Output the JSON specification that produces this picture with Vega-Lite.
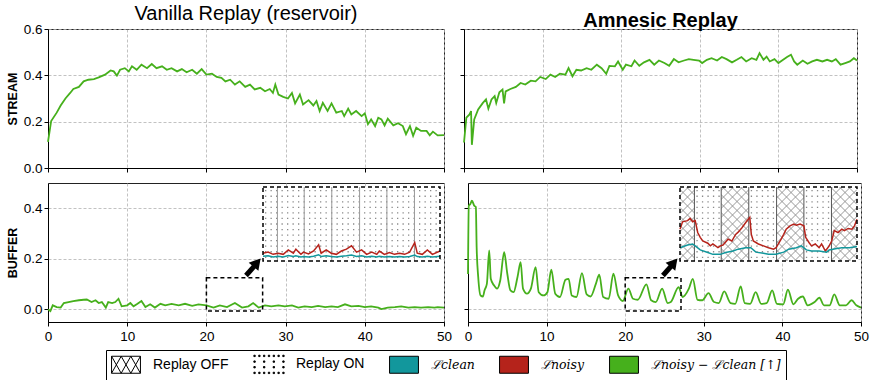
{
"$schema": "https://vega.github.io/schema/vega-lite/v6.json",
"padding": {"top": 3, "left": 5, "right": 4, "bottom": 0},
"datasets": {
"stream_vanilla": [{"e":0,"v":0.113},{"e":0.4,"v":0.203},{"e":1.1,"v":0.239},{"e":1.6,"v":0.27},{"e":2.2,"v":0.3},{"e":2.8,"v":0.324},{"e":3.2,"v":0.341},{"e":3.9,"v":0.35},{"e":4.5,"v":0.374},{"e":5.1,"v":0.381},{"e":5.8,"v":0.384},{"e":6.4,"v":0.391},{"e":7.2,"v":0.403},{"e":7.9,"v":0.421},{"e":8.3,"v":0.417},{"e":8.7,"v":0.399},{"e":9.1,"v":0.424},{"e":9.7,"v":0.431},{"e":10.2,"v":0.417},{"e":10.6,"v":0.439},{"e":11.2,"v":0.424},{"e":11.8,"v":0.446},{"e":12.5,"v":0.431},{"e":13.1,"v":0.449},{"e":13.7,"v":0.431},{"e":14.4,"v":0.439},{"e":15.0,"v":0.424},{"e":15.6,"v":0.431},{"e":16.3,"v":0.417},{"e":16.9,"v":0.427},{"e":17.5,"v":0.413},{"e":18.2,"v":0.424},{"e":18.8,"v":0.407},{"e":19.4,"v":0.427},{"e":20.0,"v":0.403},{"e":20.7,"v":0.407},{"e":21.3,"v":0.393},{"e":21.9,"v":0.389},{"e":22.4,"v":0.374},{"e":23.0,"v":0.381},{"e":23.6,"v":0.36},{"e":24.2,"v":0.374},{"e":24.9,"v":0.35},{"e":25.5,"v":0.36},{"e":26.1,"v":0.339},{"e":26.8,"v":0.346},{"e":27.4,"v":0.331},{"e":28.0,"v":0.341},{"e":28.4,"v":0.324},{"e":28.7,"v":0.36},{"e":29.1,"v":0.317},{"e":29.7,"v":0.307},{"e":30.3,"v":0.3},{"e":30.8,"v":0.324},{"e":31.2,"v":0.279},{"e":31.8,"v":0.317},{"e":32.2,"v":0.274},{"e":32.9,"v":0.293},{"e":33.5,"v":0.27},{"e":33.9,"v":0.289},{"e":34.3,"v":0.246},{"e":34.7,"v":0.281},{"e":35.3,"v":0.246},{"e":35.8,"v":0.279},{"e":36.4,"v":0.239},{"e":37.1,"v":0.246},{"e":37.4,"v":0.224},{"e":37.9,"v":0.256},{"e":38.3,"v":0.231},{"e":38.9,"v":0.246},{"e":39.6,"v":0.224},{"e":40.0,"v":0.236},{"e":40.4,"v":0.189},{"e":40.8,"v":0.21},{"e":41.3,"v":0.181},{"e":41.7,"v":0.217},{"e":42.1,"v":0.21},{"e":42.5,"v":0.184},{"e":42.9,"v":0.213},{"e":43.6,"v":0.184},{"e":44.2,"v":0.193},{"e":44.8,"v":0.181},{"e":45.2,"v":0.146},{"e":45.7,"v":0.181},{"e":46.1,"v":0.139},{"e":46.5,"v":0.174},{"e":47.1,"v":0.16},{"e":47.8,"v":0.16},{"e":48.2,"v":0.141},{"e":48.6,"v":0.157},{"e":49.2,"v":0.141},{"e":50,"v":0.142}],
"stream_amnesic": [{"e":0,"v":0.11},{"e":0.3,"v":0.217},{"e":0.7,"v":0.231},{"e":0.9,"v":0.246},{"e":1.0,"v":0.1},{"e":1.3,"v":0.21},{"e":1.8,"v":0.253},{"e":2.4,"v":0.281},{"e":2.8,"v":0.296},{"e":3.1,"v":0.256},{"e":3.5,"v":0.296},{"e":3.9,"v":0.31},{"e":4.1,"v":0.281},{"e":4.5,"v":0.327},{"e":4.9,"v":0.339},{"e":5.1,"v":0.279},{"e":5.3,"v":0.331},{"e":5.9,"v":0.341},{"e":6.6,"v":0.35},{"e":7.2,"v":0.367},{"e":7.8,"v":0.36},{"e":8.5,"v":0.377},{"e":9.1,"v":0.374},{"e":9.7,"v":0.393},{"e":10.4,"v":0.384},{"e":11.0,"v":0.403},{"e":11.6,"v":0.393},{"e":12.2,"v":0.407},{"e":12.9,"v":0.403},{"e":13.3,"v":0.431},{"e":13.8,"v":0.396},{"e":14.3,"v":0.424},{"e":14.9,"v":0.421},{"e":15.6,"v":0.431},{"e":16.2,"v":0.424},{"e":16.9,"v":0.446},{"e":17.5,"v":0.431},{"e":18.1,"v":0.407},{"e":18.5,"v":0.441},{"e":19.2,"v":0.439},{"e":19.6,"v":0.46},{"e":20.2,"v":0.424},{"e":20.6,"v":0.446},{"e":21.3,"v":0.439},{"e":21.7,"v":0.464},{"e":22.3,"v":0.441},{"e":22.9,"v":0.456},{"e":23.6,"v":0.467},{"e":24.2,"v":0.446},{"e":24.8,"v":0.464},{"e":25.5,"v":0.453},{"e":26.1,"v":0.441},{"e":26.7,"v":0.47},{"e":27.3,"v":0.456},{"e":28.0,"v":0.464},{"e":28.6,"v":0.47},{"e":29.2,"v":0.467},{"e":29.9,"v":0.464},{"e":30.3,"v":0.453},{"e":30.9,"v":0.467},{"e":31.5,"v":0.474},{"e":32.2,"v":0.464},{"e":32.8,"v":0.479},{"e":33.4,"v":0.47},{"e":34.1,"v":0.456},{"e":34.7,"v":0.467},{"e":35.3,"v":0.479},{"e":35.9,"v":0.46},{"e":36.6,"v":0.474},{"e":37.2,"v":0.467},{"e":37.6,"v":0.496},{"e":38.1,"v":0.467},{"e":38.5,"v":0.481},{"e":38.9,"v":0.46},{"e":39.5,"v":0.47},{"e":40.0,"v":0.453},{"e":40.6,"v":0.467},{"e":41.1,"v":0.479},{"e":41.6,"v":0.489},{"e":42.0,"v":0.46},{"e":42.4,"v":0.446},{"e":43.1,"v":0.464},{"e":43.7,"v":0.45},{"e":44.3,"v":0.46},{"e":44.9,"v":0.467},{"e":45.6,"v":0.46},{"e":46.2,"v":0.467},{"e":46.8,"v":0.46},{"e":47.3,"v":0.47},{"e":47.9,"v":0.446},{"e":48.5,"v":0.453},{"e":49.1,"v":0.46},{"e":49.6,"v":0.474},{"e":50,"v":0.464}],
"buffer_vanilla": [{"e":0,"v":0.0},{"e":0.3,"v":-0.007},{"e":0.6,"v":0.016},{"e":1.1,"v":0.009},{"e":1.6,"v":0.007},{"e":2.0,"v":0.025},{"e":2.6,"v":0.029},{"e":3.2,"v":0.033},{"e":3.9,"v":0.036},{"e":4.5,"v":0.038},{"e":4.9,"v":0.039},{"e":5.5,"v":0.029},{"e":6.0,"v":0.036},{"e":6.4,"v":0.025},{"e":6.8,"v":0.029},{"e":7.3,"v":0.007},{"e":7.6,"v":0.029},{"e":8.1,"v":0.025},{"e":8.5,"v":0.029},{"e":8.9,"v":0.042},{"e":9.3,"v":0.012},{"e":10.0,"v":0.016},{"e":10.4,"v":0.025},{"e":10.8,"v":0.012},{"e":11.3,"v":0.022},{"e":11.8,"v":0.033},{"e":12.3,"v":0.009},{"e":12.9,"v":0.02},{"e":13.5,"v":0.007},{"e":14.2,"v":0.022},{"e":14.8,"v":0.016},{"e":15.6,"v":0.022},{"e":16.5,"v":0.016},{"e":17.3,"v":0.022},{"e":18.2,"v":0.014},{"e":19.0,"v":0.02},{"e":20.0,"v":0.016},{"e":20.9,"v":0.007},{"e":21.7,"v":0.016},{"e":22.6,"v":0.009},{"e":23.6,"v":0.025},{"e":24.5,"v":0.007},{"e":25.3,"v":0.012},{"e":25.9,"v":0.025},{"e":26.6,"v":0.007},{"e":27.4,"v":0.016},{"e":28.2,"v":0.012},{"e":29.1,"v":0.016},{"e":29.9,"v":0.012},{"e":30.8,"v":0.016},{"e":31.6,"v":0.007},{"e":32.4,"v":0.012},{"e":33.3,"v":0.009},{"e":34.1,"v":0.014},{"e":35.0,"v":0.009},{"e":35.8,"v":0.012},{"e":36.6,"v":0.009},{"e":37.5,"v":0.02},{"e":38.3,"v":0.012},{"e":39.2,"v":0.014},{"e":40.0,"v":0.009},{"e":40.8,"v":0.012},{"e":41.7,"v":0.007},{"e":42.1,"v":0.001},{"e":42.9,"v":0.007},{"e":43.8,"v":0.009},{"e":44.6,"v":0.012},{"e":45.5,"v":0.007},{"e":46.3,"v":0.009},{"e":47.1,"v":0.007},{"e":48.0,"v":0.009},{"e":48.8,"v":0.007},{"e":49.2,"v":0.009},{"e":50,"v":0.007}],
"buffer_amnesic": [{"e":0,"v":0.14},{"e":0.1,"v":0.41},{"e":0.3,"v":0.417},{"e":0.5,"v":0.43},{"e":0.8,"v":0.41},{"e":1.0,"v":0.405},{"e":1.1,"v":0.246},{"e":1.3,"v":0.128},{"e":1.6,"v":0.055},{"e":1.9,"v":0.051},{"e":2.1,"v":0.075},{"e":2.4,"v":0.101},{"e":2.7,"v":0.233},{"e":2.9,"v":0.121},{"e":3.3,"v":0.095},{"e":3.7,"v":0.082},{"e":4.1,"v":0.114},{"e":4.6,"v":0.226},{"e":5.0,"v":0.141},{"e":5.4,"v":0.075},{"e":5.8,"v":0.068},{"e":6.3,"v":0.128},{"e":6.7,"v":0.187},{"e":7.0,"v":0.082},{"e":7.5,"v":0.062},{"e":8.0,"v":0.082},{"e":8.6,"v":0.167},{"e":9.0,"v":0.068},{"e":9.6,"v":0.055},{"e":10.1,"v":0.068},{"e":10.6,"v":0.157},{"e":11.1,"v":0.062},{"e":11.7,"v":0.049},{"e":12.4,"v":0.117},{"e":12.8,"v":0.121},{"e":13.2,"v":0.055},{"e":13.8,"v":0.049},{"e":14.5,"v":0.143},{"e":15.1,"v":0.059},{"e":15.6,"v":0.051},{"e":16.3,"v":0.104},{"e":16.7,"v":0.137},{"e":17.2,"v":0.049},{"e":17.9,"v":0.042},{"e":18.5,"v":0.141},{"e":19.1,"v":0.055},{"e":19.7,"v":0.033},{"e":20.4,"v":0.082},{"e":21.0,"v":0.042},{"e":21.6,"v":0.038},{"e":22.7,"v":0.099},{"e":23.3,"v":0.036},{"e":23.9,"v":0.029},{"e":24.7,"v":0.082},{"e":25.4,"v":0.025},{"e":25.8,"v":0.029},{"e":26.8,"v":0.088},{"e":27.3,"v":0.049},{"e":28.1,"v":0.082},{"e":28.6,"v":0.121},{"e":29.2,"v":0.038},{"e":29.8,"v":0.036},{"e":30.6,"v":0.064},{"e":31.3,"v":0.029},{"e":31.9,"v":0.025},{"e":32.6,"v":0.071},{"e":33.4,"v":0.025},{"e":34.0,"v":0.022},{"e":34.7,"v":0.091},{"e":35.2,"v":0.025},{"e":35.9,"v":0.022},{"e":36.6,"v":0.068},{"e":37.3,"v":0.022},{"e":38.0,"v":0.025},{"e":38.7,"v":0.075},{"e":39.3,"v":0.022},{"e":40.1,"v":0.02},{"e":40.7,"v":0.078},{"e":41.4,"v":0.02},{"e":42.0,"v":0.042},{"e":42.6,"v":0.051},{"e":43.2,"v":0.016},{"e":44.1,"v":0.029},{"e":44.7,"v":0.046},{"e":45.3,"v":0.016},{"e":46.0,"v":0.016},{"e":46.6,"v":0.059},{"e":47.3,"v":0.016},{"e":48.1,"v":0.016},{"e":48.8,"v":0.036},{"e":49.4,"v":0.016},{"e":50,"v":0.007}],
"inset_vanilla": [{"e":20.0,"n":0.105,"c":0.065},{"e":20.2,"n":0.12,"c":0.07},{"e":20.4,"n":0.09,"c":0.055},{"e":20.6,"n":0.105,"c":0.065},{"e":20.8,"n":0.09,"c":0.055},{"e":21.0,"n":0.15,"c":0.075},{"e":21.2,"n":0.105,"c":0.06},{"e":21.3,"n":0.16,"c":0.07},{"e":21.5,"n":0.09,"c":0.055},{"e":21.6,"n":0.12,"c":0.06},{"e":21.8,"n":0.095,"c":0.055},{"e":22.0,"n":0.135,"c":0.065},{"e":22.2,"n":0.22,"c":0.085},{"e":22.3,"n":0.105,"c":0.06},{"e":22.5,"n":0.15,"c":0.07},{"e":22.7,"n":0.105,"c":0.06},{"e":22.9,"n":0.09,"c":0.055},{"e":23.1,"n":0.135,"c":0.065},{"e":23.3,"n":0.16,"c":0.07},{"e":23.5,"n":0.205,"c":0.08},{"e":23.7,"n":0.12,"c":0.06},{"e":23.9,"n":0.15,"c":0.07},{"e":24.1,"n":0.09,"c":0.055},{"e":24.3,"n":0.12,"c":0.065},{"e":24.5,"n":0.09,"c":0.055},{"e":24.6,"n":0.135,"c":0.065},{"e":24.8,"n":0.09,"c":0.055},{"e":25.0,"n":0.115,"c":0.06},{"e":25.2,"n":0.09,"c":0.055},{"e":25.4,"n":0.105,"c":0.06},{"e":25.6,"n":0.09,"c":0.055},{"e":25.8,"n":0.12,"c":0.06},{"e":26.0,"n":0.25,"c":0.08},{"e":26.1,"n":0.105,"c":0.06},{"e":26.3,"n":0.09,"c":0.055},{"e":26.5,"n":0.15,"c":0.065},{"e":26.7,"n":0.09,"c":0.055},{"e":27.0,"n":0.135,"c":0.065}],
"inset_amnesic_noisy": [{"e":20.0,"v":0.43},{"e":20.1,"v":0.53},{"e":20.3,"v":0.545},{"e":20.4,"v":0.575},{"e":20.5,"v":0.53},{"e":20.6,"v":0.545},{"e":20.7,"v":0.385},{"e":20.8,"v":0.32},{"e":20.9,"v":0.27},{"e":21.1,"v":0.24},{"e":21.2,"v":0.205},{"e":21.3,"v":0.23},{"e":21.5,"v":0.18},{"e":21.6,"v":0.205},{"e":21.7,"v":0.215},{"e":21.9,"v":0.295},{"e":22.05,"v":0.27},{"e":22.2,"v":0.36},{"e":22.3,"v":0.39},{"e":22.45,"v":0.45},{"e":22.6,"v":0.52},{"e":22.7,"v":0.565},{"e":22.76,"v":0.59},{"e":22.82,"v":0.36},{"e":22.9,"v":0.27},{"e":23.1,"v":0.23},{"e":23.3,"v":0.205},{"e":23.5,"v":0.18},{"e":23.7,"v":0.16},{"e":23.8,"v":0.18},{"e":24.0,"v":0.295},{"e":24.1,"v":0.36},{"e":24.2,"v":0.43},{"e":24.35,"v":0.475},{"e":24.5,"v":0.5},{"e":24.6,"v":0.485},{"e":24.75,"v":0.5},{"e":24.9,"v":0.475},{"e":24.97,"v":0.32},{"e":25.1,"v":0.25},{"e":25.2,"v":0.205},{"e":25.35,"v":0.23},{"e":25.5,"v":0.18},{"e":25.6,"v":0.23},{"e":25.75,"v":0.135},{"e":25.9,"v":0.205},{"e":26.0,"v":0.27},{"e":26.1,"v":0.41},{"e":26.25,"v":0.385},{"e":26.4,"v":0.43},{"e":26.5,"v":0.41},{"e":26.65,"v":0.44},{"e":26.8,"v":0.43},{"e":26.9,"v":0.475},{"e":27.0,"v":0.565}],
"inset_amnesic_clean": [{"e":20.0,"v":0.18},{"e":20.3,"v":0.215},{"e":20.5,"v":0.23},{"e":20.6,"v":0.205},{"e":20.8,"v":0.15},{"e":21.1,"v":0.115},{"e":21.3,"v":0.09},{"e":21.6,"v":0.09},{"e":21.8,"v":0.115},{"e":22.1,"v":0.135},{"e":22.3,"v":0.16},{"e":22.6,"v":0.18},{"e":22.8,"v":0.18},{"e":23.0,"v":0.12},{"e":23.3,"v":0.105},{"e":23.5,"v":0.09},{"e":23.8,"v":0.09},{"e":24.1,"v":0.12},{"e":24.3,"v":0.16},{"e":24.6,"v":0.18},{"e":24.8,"v":0.205},{"e":25.0,"v":0.15},{"e":25.2,"v":0.135},{"e":25.5,"v":0.135},{"e":25.8,"v":0.12},{"e":25.9,"v":0.15},{"e":26.2,"v":0.17},{"e":26.4,"v":0.18},{"e":26.7,"v":0.18},{"e":27.0,"v":0.195}],
"on_bands": [{"x0":20.57,"x1":21.63,"ys":[0.05,0.125,0.2,0.275,0.35,0.425,0.5,0.575,0.65,0.725,0.8,0.875,0.95]},{"x0":22.72,"x1":23.82,"ys":[0.05,0.125,0.2,0.275,0.35,0.425,0.5,0.575,0.65,0.725,0.8,0.875,0.95]},{"x0":24.9,"x1":25.99,"ys":[0.05,0.125,0.2,0.275,0.35,0.425,0.5,0.575,0.65,0.725,0.8,0.875,0.95]}],
"all_band": [{"x0":20,"x1":27,"ys":[0.05,0.125,0.2,0.275,0.35,0.425,0.5,0.575,0.65,0.725,0.8,0.875,0.95]}],
"bounds": [{"b":20.57},{"b":21.63},{"b":22.72},{"b":23.82},{"b":24.9},{"b":25.99}],
"legend_items": [{"s":"Replay OFF"},{"s":"Replay ON"},{"s":"ℒclean"},{"s":"ℒnoisy"},{"s":"ℒnoisy − ℒclean [↑]"}]
},
"vconcat": [
{"hconcat": [
 {"width":396,"height":139,
  "title":{"text":"Vanilla Replay (reservoir)","fontSize":20,"fontWeight":"normal","font":"Liberation Sans","color":"#000","offset":-2},
  "data":{"name":"stream_vanilla"},
  "mark":{"type":"line","color":"#46b01c","strokeWidth":1.8},
  "encoding":{
   "x":{"field":"e","type":"quantitative","scale":{"domain":[0,50],"nice":false,"zero":false},"axis":{"values":[0,10,20,30,40,50],"labels":false,"title":null}},
   "y":{"field":"v","type":"quantitative","scale":{"domain":[0,0.6],"nice":false},"axis":{"values":[0,0.2,0.4,0.6],"format":".1f","title":"STREAM","titleFontWeight":"bold","titlePadding":4}}
  }},
 {"width":393,"height":139,
  "title":{"text":"Amnesic Replay","fontSize":20,"fontWeight":"bold","font":"Liberation Sans","color":"#000","offset":-2},
  "data":{"name":"stream_amnesic"},
  "mark":{"type":"line","color":"#46b01c","strokeWidth":1.8},
  "encoding":{
   "x":{"field":"e","type":"quantitative","scale":{"domain":[0,50],"nice":false,"zero":false},"axis":{"values":[0,10,20,30,40,50],"labels":false,"title":null}},
   "y":{"field":"v","type":"quantitative","scale":{"domain":[0,0.6],"nice":false},"axis":{"values":[0,0.2,0.4,0.6],"labels":false,"title":null}}
  }}
 ], "spacing": 10},
{"hconcat": [
 {"width":396,"height":139,
  "layer":[
   {"layer":[
     {"data":{"name":"buffer_vanilla"},"mark":{"type":"line","color":"#46b01c","strokeWidth":1.8},
      "encoding":{
       "x":{"field":"e","type":"quantitative","scale":{"domain":[0,50],"nice":false,"zero":false},"axis":{"values":[0,10,20,30,40,50],"title":null,"labelFlush":false,"labelPadding":3}},
       "y":{"field":"v","type":"quantitative","scale":{"domain":[-0.05,0.5],"nice":false,"zero":false},"axis":{"values":[0,0.2,0.4],"format":".1f","title":"BUFFER","titleFontWeight":"bold","titlePadding":4}}}},
     {"data":{"values":[{}]},"mark":{"type":"rect","fill":"transparent","stroke":"#000","strokeWidth":1.5,"strokeDash":[4,3]},
      "encoding":{"x":{"datum":20,"type":"quantitative"},"x2":{"datum":27.1},"y":{"datum":-0.006,"type":"quantitative"},"y2":{"datum":0.125}}},
     {"data":{"values":[{}]},"mark":{"type":"rule","color":"#000","strokeWidth":5},
      "encoding":{"x":{"datum":25.0,"type":"quantitative"},"x2":{"datum":26.3},"y":{"datum":0.134,"type":"quantitative"},"y2":{"datum":0.18}}},
     {"data":{"values":[{}]},"mark":{"type":"point","shape":"triangle-up","filled":true,"color":"#000","size":160,"angle":40,"opacity":1},
      "encoding":{"x":{"datum":26.4,"type":"quantitative"},"y":{"datum":0.185,"type":"quantitative"}}},
     {"data":{"name":"legend_items"},"mark":{"type":"point","filled":true,"opacity":0},
      "encoding":{
       "fill":{"field":"s","type":"nominal","scale":{"domain":["Replay OFF","Replay ON","ℒclean","ℒnoisy","ℒnoisy − ℒclean [↑]"],"range":["#ffffff","#000000","#12979c","#b5231b","#46b01c"]},
        "legend":{"orient":"none","legendX":58,"legendY":321,"direction":"horizontal","columns":5,"title":null,"strokeColor":"#000","fillColor":"#fff","padding":5,"cornerRadius":0,"symbolSize":289,"symbolOffset":6,"labelFontSize":14,"labelFont":"Liberation Sans","labelColor":"#000","columnPadding":22,"labelOffset":18,
         "encode":{"symbols":{"update":{"stroke":{"value":"#000"},"strokeWidth":{"value":1},"opacity":{"value":1}}},"labels":{"update":{"fontStyle":[{"test":"datum.index >= 2","value":"italic"},{"value":"normal"}],"font":[{"test":"datum.index >= 2","value":"DejaVu Serif"},{"value":"Liberation Sans"}],"fontSize":[{"test":"datum.index >= 2","value":12.5},{"value":14}]}}}}},
       "shape":{"field":"s","type":"nominal","scale":{"domain":["Replay OFF","Replay ON","ℒclean","ℒnoisy","ℒnoisy − ℒclean [↑]"],"range":[
         "M-1.7,-1H1.7V1H-1.7Z M-1.7,-1L-0.567,1 M-0.567,-1L-1.7,1 M-0.567,-1L0.567,1 M0.567,-1L-0.567,1 M0.567,-1L1.7,1 M1.7,-1L0.567,1",
         "M-1.78,-1.08h0.16v0.16h-0.16Z M-1.21,-1.08h0.16v0.16h-0.16Z M-0.65,-1.08h0.16v0.16h-0.16Z M-0.08,-1.08h0.16v0.16h-0.16Z M0.49,-1.08h0.16v0.16h-0.16Z M1.05,-1.08h0.16v0.16h-0.16Z M1.62,-1.08h0.16v0.16h-0.16Z M-1.78,-0.41h0.16v0.16h-0.16Z M-0.65,-0.41h0.16v0.16h-0.16Z M0.49,-0.41h0.16v0.16h-0.16Z M1.62,-0.41h0.16v0.16h-0.16Z M-1.78,0.25h0.16v0.16h-0.16Z M-0.65,0.25h0.16v0.16h-0.16Z M0.49,0.25h0.16v0.16h-0.16Z M1.62,0.25h0.16v0.16h-0.16Z M-1.78,0.92h0.16v0.16h-0.16Z M-1.21,0.92h0.16v0.16h-0.16Z M-0.65,0.92h0.16v0.16h-0.16Z M-0.08,0.92h0.16v0.16h-0.16Z M0.49,0.92h0.16v0.16h-0.16Z M1.05,0.92h0.16v0.16h-0.16Z M1.62,0.92h0.16v0.16h-0.16Z",
         "M-1.7,-1H1.7V1H-1.7Z","M-1.7,-1H1.7V1H-1.7Z","M-1.7,-1H1.7V1H-1.7Z"]},
        "legend":{"orient":"none","legendX":58,"legendY":321,"direction":"horizontal","columns":5,"title":null}}
      }}
   ]},
   {"layer":[
     {"data":{"values":[{}]},"mark":{"type":"rect","fill":"#fff"},
      "encoding":{"x":{"datum":20,"type":"quantitative","scale":{"domain":[20,27],"range":[215,392],"nice":false,"zero":false},"axis":null},"x2":{"datum":27},"y":{"datum":0,"type":"quantitative","scale":{"domain":[0,1],"range":[78,4],"nice":false,"zero":false},"axis":null},"y2":{"datum":1}}},
     {"data":{"name":"all_band"},"transform":[{"flatten":["ys"]}],"mark":{"type":"rule","color":"#8a8a8a","strokeWidth":1.3,"strokeDash":[1.3,4.2],"strokeDashOffset":-2},
      "encoding":{"x":{"field":"x0","type":"quantitative","axis":null},"x2":{"field":"x1"},"y":{"field":"ys","type":"quantitative","axis":null}}},
     {"data":{"name":"bounds"},"mark":{"type":"rule","color":"#999","strokeWidth":1},
      "encoding":{"x":{"field":"b","type":"quantitative","axis":null},"y":{"datum":0,"type":"quantitative","axis":null},"y2":{"datum":1}}},
     {"data":{"name":"inset_vanilla"},"mark":{"type":"line","color":"#12979c","strokeWidth":1.5},
      "encoding":{"x":{"field":"e","type":"quantitative","axis":null},"y":{"field":"c","type":"quantitative","axis":null}}},
     {"data":{"name":"inset_vanilla"},"mark":{"type":"line","color":"#b5231b","strokeWidth":1.5},
      "encoding":{"x":{"field":"e","type":"quantitative","axis":null},"y":{"field":"n","type":"quantitative","axis":null}}},
     {"data":{"values":[{}]},"mark":{"type":"rect","fill":"transparent","stroke":"#000","strokeWidth":1.5,"strokeDash":[4,3]},
      "encoding":{"x":{"datum":20,"type":"quantitative","axis":null},"x2":{"datum":27},"y":{"datum":0,"type":"quantitative","axis":null},"y2":{"datum":1}}}
   ]}
  ],
  "resolve":{"scale":{"x":"independent","y":"independent"}}
 },
 {"width":393,"height":139,
  "layer":[
   {"layer":[
     {"data":{"name":"buffer_amnesic"},"mark":{"type":"line","color":"#46b01c","strokeWidth":1.8,"interpolate":"monotone"},
      "encoding":{
       "x":{"field":"e","type":"quantitative","scale":{"domain":[0,50],"nice":false,"zero":false},"axis":{"values":[0,10,20,30,40,50],"title":null,"labelFlush":false,"labelPadding":3}},
       "y":{"field":"v","type":"quantitative","scale":{"domain":[-0.05,0.5],"nice":false,"zero":false},"axis":{"values":[0,0.2,0.4],"labels":false,"title":null}}}},
     {"data":{"values":[{}]},"mark":{"type":"rect","fill":"transparent","stroke":"#000","strokeWidth":1.5,"strokeDash":[4,3]},
      "encoding":{"x":{"datum":20,"type":"quantitative"},"x2":{"datum":27.1},"y":{"datum":-0.006,"type":"quantitative"},"y2":{"datum":0.125}}},
     {"data":{"values":[{}]},"mark":{"type":"rule","color":"#000","strokeWidth":5},
      "encoding":{"x":{"datum":24.8,"type":"quantitative"},"x2":{"datum":26.1},"y":{"datum":0.134,"type":"quantitative"},"y2":{"datum":0.18}}},
     {"data":{"values":[{}]},"mark":{"type":"point","shape":"triangle-up","filled":true,"color":"#000","size":160,"angle":40,"opacity":1},
      "encoding":{"x":{"datum":26.2,"type":"quantitative"},"y":{"datum":0.185,"type":"quantitative"}}}
   ]},
   {"layer":[
     {"data":{"values":[{}]},"mark":{"type":"rect","fill":"#fff"},
      "encoding":{"x":{"datum":20,"type":"quantitative","scale":{"domain":[20,27],"range":[212,389],"nice":false,"zero":false},"axis":null},"x2":{"datum":27},"y":{"datum":0,"type":"quantitative","scale":{"domain":[0,1],"range":[78,4],"nice":false,"zero":false},"axis":null},"y2":{"datum":1}}},
     {"data":{"values":[{}]},"mark":{"type":"point","filled":false,"color":"#8c8c8c","strokeWidth":0.9,"opacity":1,"size":4,
       "shape":"M80,-37L88.5,-28.5M71,-37L88.5,-19.5M62,-37L88.5,-10.5M53,-37L88.5,-1.5M44,-37L88.5,7.5M35,-37L88.5,16.5M26,-37L88.5,25.5M17,-37L88.5,34.5M8,-37L82,37M-1,-37L73,37M-10,-37L64,37M-19,-37L55,37M-28,-37L46,37M-37,-37L37,37M-46,-37L28,37M-55,-37L19,37M-64,-37L10,37M-73,-37L1,37M-82,-37L-8,37M-88.5,-34.5L-17,37M-88.5,-25.5L-26,37M-88.5,-16.5L-35,37M-88.5,-7.5L-44,37M-88.5,1.5L-53,37M-88.5,10.5L-62,37M-88.5,19.5L-71,37M-88.5,28.5L-80,37M-80,-37L-88.5,-28.5M-71,-37L-88.5,-19.5M-62,-37L-88.5,-10.5M-53,-37L-88.5,-1.5M-44,-37L-88.5,7.5M-35,-37L-88.5,16.5M-26,-37L-88.5,25.5M-17,-37L-88.5,34.5M-8,-37L-82,37M1,-37L-73,37M10,-37L-64,37M19,-37L-55,37M28,-37L-46,37M37,-37L-37,37M46,-37L-28,37M55,-37L-19,37M64,-37L-10,37M73,-37L-1,37M82,-37L8,37M88.5,-34.5L17,37M88.5,-25.5L26,37M88.5,-16.5L35,37M88.5,-7.5L44,37M88.5,1.5L53,37M88.5,10.5L62,37M88.5,19.5L71,37M88.5,28.5L80,37"},
      "encoding":{"x":{"datum":23.5,"type":"quantitative","axis":null},"y":{"datum":0.5,"type":"quantitative","axis":null}}},
     {"data":{"name":"on_bands"},"mark":{"type":"rect","fill":"#fff"},
      "encoding":{"x":{"field":"x0","type":"quantitative","axis":null},"x2":{"field":"x1"},"y":{"datum":0,"type":"quantitative","axis":null},"y2":{"datum":1}}},
     {"data":{"name":"on_bands"},"transform":[{"flatten":["ys"]}],"mark":{"type":"rule","color":"#8a8a8a","strokeWidth":1.3,"strokeDash":[1.3,4.2],"strokeDashOffset":-2},
      "encoding":{"x":{"field":"x0","type":"quantitative","axis":null},"x2":{"field":"x1"},"y":{"field":"ys","type":"quantitative","axis":null}}},
     {"data":{"name":"bounds"},"mark":{"type":"rule","color":"#555","strokeWidth":1},
      "encoding":{"x":{"field":"b","type":"quantitative","axis":null},"y":{"datum":0,"type":"quantitative","axis":null},"y2":{"datum":1}}},
     {"data":{"name":"inset_amnesic_noisy"},"mark":{"type":"line","color":"#b5231b","strokeWidth":1.5},
      "encoding":{"x":{"field":"e","type":"quantitative","axis":null},"y":{"field":"v","type":"quantitative","axis":null}}},
     {"data":{"name":"inset_amnesic_clean"},"mark":{"type":"line","color":"#12979c","strokeWidth":1.5},
      "encoding":{"x":{"field":"e","type":"quantitative","axis":null},"y":{"field":"v","type":"quantitative","axis":null}}},
     {"data":{"values":[{}]},"mark":{"type":"rect","fill":"transparent","stroke":"#000","strokeWidth":1.5,"strokeDash":[4,3]},
      "encoding":{"x":{"datum":20,"type":"quantitative","axis":null},"x2":{"datum":27},"y":{"datum":0,"type":"quantitative","axis":null},"y2":{"datum":1}}}
   ]}
  ],
  "resolve":{"scale":{"x":"independent","y":"independent"}}
 }
 ], "spacing": 10}
],
"spacing": 7,
"config": {
 "font": "Liberation Sans",
 "view": {"stroke": "#222", "strokeWidth": 1},
 "axis": {"domainColor":"#000","domainWidth":1,"tickColor":"#000","tickSize":4,"tickWidth":1,"labelFontSize":13.5,"labelColor":"#000","labelFont":"Liberation Sans","gridColor":"#b3b3b3","gridDash":[3,2],"gridWidth":0.8,"titleFontSize":12.5,"titleColor":"#000","titleFont":"Liberation Sans"}
}
}
